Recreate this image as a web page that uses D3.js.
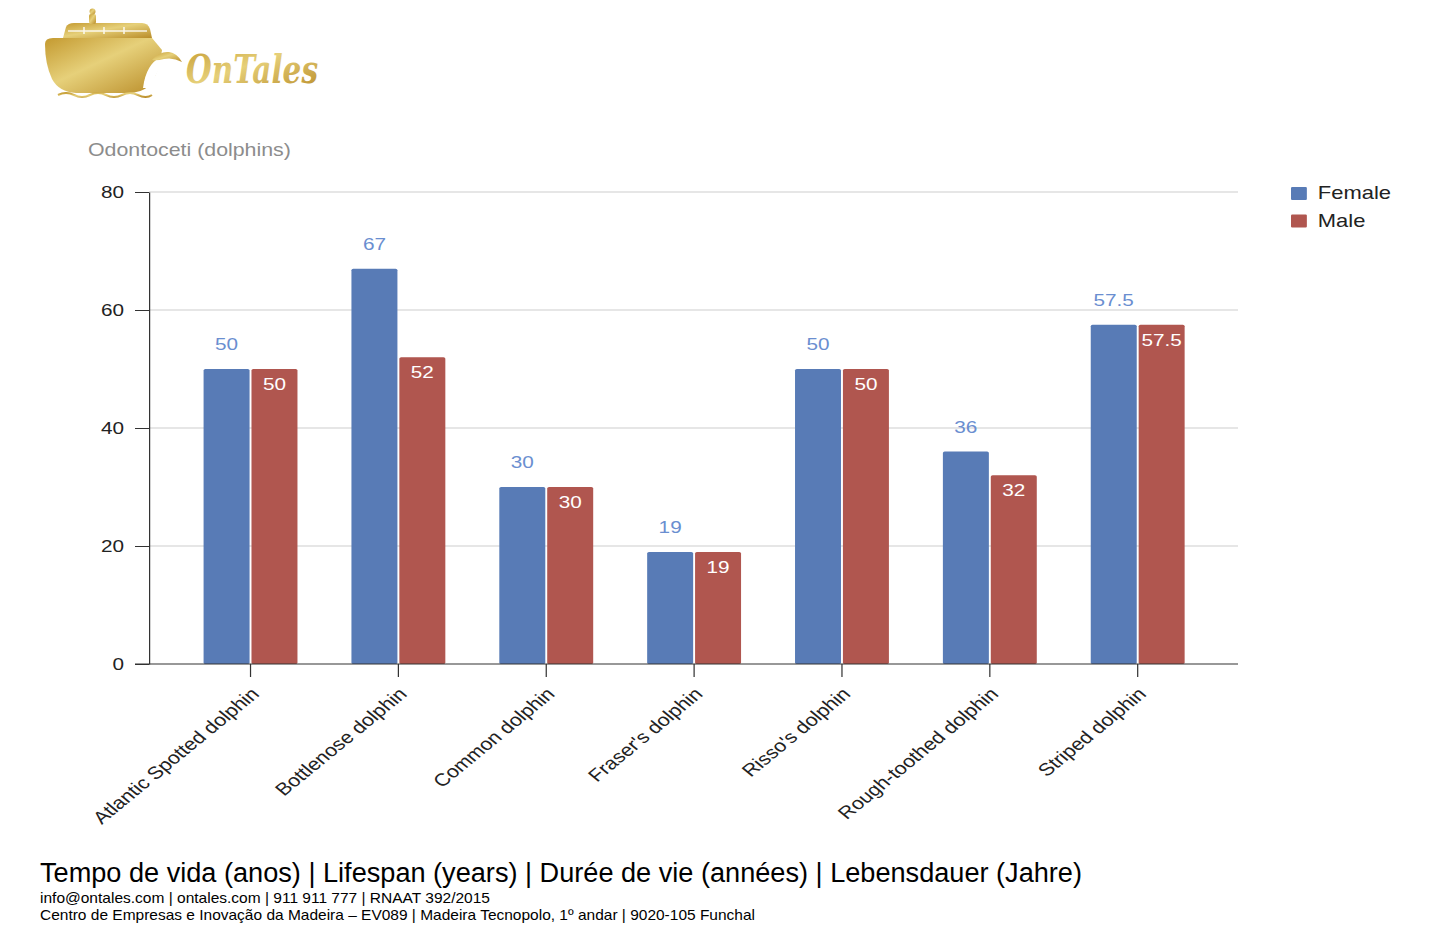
<!DOCTYPE html>
<html>
<head>
<meta charset="utf-8">
<script src="https://cdn.jsdelivr.net/npm/d3@7/dist/d3.min.js"></script>
<style>
  html, body { margin: 0; padding: 0; background: #fff; }
  svg { display: block; font-family: "Liberation Sans", Arial, sans-serif; }
</style>
</head>
<body>
<svg id="chart" width="1438" height="934"></svg>
<script>
// lifespan of dolphin species
const categories = ['Atlantic Spotted dolphin', 'Bottlenose dolphin', 'Common dolphin',
  "Fraser's dolphin", "Risso's dolphin", 'Rough-toothed dolphin', 'Striped dolphin'];
const seriesNames = ['Female', 'Male'];
const female = [50, 67, 30, 19, 50, 36, 57.5];
const male = [50, 52, 30, 19, 50, 32, 57.5];
const yTicks = [0, 20, 40, 60, 80];
const colors = ['#587bb6', '#b0564f'];

const title = 'Odontoceti (dolphins)';
const footer = [
  'Tempo de vida (anos) | Lifespan (years) | Durée de vie (années) | Lebensdauer (Jahre)',
  'info@ontales.com | ontales.com | 911 911 777 | RNAAT 392/2015',
  'Centro de Empresas e Inovação da Madeira – EV089 | Madeira Tecnopolo, 1º andar | 9020-105 Funchal'
];

// the original is a chart image stretched sideways, so draw it squeezed and scale x back up
const SX = 1.22;
const plotL = 149 / SX, plotR = 1238 / SX, plotT = 192, plotB = 664;

const svg = d3.select('#chart');
const defs = svg.append('defs');
const gold = defs.append('linearGradient').attr('id', 'gold')
  .attr('x1', 0).attr('y1', 0).attr('x2', 1).attr('y2', 1);
gold.append('stop').attr('offset', '0%').attr('stop-color', '#c49a30');
gold.append('stop').attr('offset', '45%').attr('stop-color', '#e6d07a');
gold.append('stop').attr('offset', '100%').attr('stop-color', '#b98c28');

// --- logo ---
const logo = svg.append('g');
logo.append('path') // hull
  .attr('d', 'M45,44 Q45,38 53,38 L152,38 L162,50 Q160,72 149,86 Q141,93 128,93 L76,93 Q59,92 52,79 Q45,64 45,44 Z')
  .attr('fill', 'url(#gold)');
logo.append('path') // cabin
  .attr('d', 'M63,38 L66,27 Q68,23 74,23 L142,23 Q148,23 150,29 L152,38 Z')
  .attr('fill', 'url(#gold)');
logo.append('path') // window rail
  .attr('d', 'M68,31 L147,31 M84,27 L84,34 M104,27 L104,34 M124,27 L124,34')
  .attr('stroke', '#fff').attr('stroke-width', 1.6).attr('opacity', .85);
logo.append('rect').attr('x', 89).attr('y', 14).attr('width', 7).attr('height', 10).attr('rx', 2).attr('fill', 'url(#gold)');
logo.append('circle').attr('cx', 92.5).attr('cy', 11.5).attr('r', 3).attr('fill', 'url(#gold)');
logo.append('path') // dolphin cut-out
  .attr('d', 'M143,88 Q146,64 161,57 Q172,53 182,62 Q170,60 162,66 Q154,74 153,88 Z')
  .attr('fill', '#fff');
logo.append('path')
  .attr('d', 'M152,60 Q160,51 169,52 Q177,53 182,62 Q173,57 164,59 Q157,61 152,60 Z')
  .attr('fill', 'url(#gold)');
logo.append('path') // waves
  .attr('d', 'M58,95 Q66,91 74,95 T90,95 T106,95 T122,95 T138,95 T152,95')
  .attr('fill', 'none').attr('stroke', 'url(#gold)').attr('stroke-width', 2);
logo.append('text')
  .attr('x', 186).attr('y', 83)
  .attr('font-family', 'DejaVu Serif').attr('font-style', 'italic').attr('font-weight', 700)
  .attr('font-size', 40).attr('textLength', 132).attr('lengthAdjust', 'spacingAndGlyphs')
  .attr('fill', 'url(#gold)')
  .text('OnTales');

// --- chart ---
const g = svg.append('g').attr('transform', `scale(${SX},1)`);

g.append('text')
  .attr('x', 88 / SX).attr('y', 156)
  .attr('font-size', 17.5).attr('fill', '#8c8c8c')
  .text(title);

const x0 = d3.scaleBand().domain(categories).range([plotL + 0.5, plotR + 0.5]).padding(0.365);
const x1 = d3.scaleBand().domain(seriesNames).range([0, x0.bandwidth()]).paddingInner(0.04);
const y = d3.scaleLinear().domain([0, 80]).range([plotB, plotT]);

g.append('g').selectAll('line').data(yTicks.filter(d => d > 0)).join('line')
  .attr('x1', plotL).attr('x2', plotR)
  .attr('y1', d => y(d)).attr('y2', d => y(d))
  .attr('stroke', '#dedede').attr('stroke-width', 1.5);

const yAxis = g.append('g').attr('transform', `translate(${plotL},0)`)
  .call(d3.axisLeft(y).tickValues(yTicks).tickSize(11.5).tickSizeOuter(0).tickPadding(9));
yAxis.select('.domain').attr('stroke', '#333');
yAxis.selectAll('.tick line').attr('stroke', '#333');
yAxis.selectAll('.tick text').attr('font-size', 17).attr('fill', '#222')
  .attr('font-family', '"Liberation Sans", Arial, sans-serif');

const rows = categories.map((c, i) => ({ cat: c, vals: [female[i], male[i]] }));
const groups = g.append('g').selectAll('g').data(rows).join('g')
  .attr('transform', d => `translate(${x0(d.cat)},0)`);

groups.selectAll('rect')
  .data(d => d.vals.map((v, k) => ({ key: seriesNames[k], v, k })))
  .join('rect')
  .attr('x', d => x1(d.key)).attr('width', x1.bandwidth())
  .attr('y', d => y(d.v)).attr('height', d => y(0) - y(d.v))
  .attr('rx', 1.5)
  .attr('fill', d => colors[d.k]);

// female values sit above the bar, male values inside it
groups.selectAll('text.val')
  .data(d => d.vals.map((v, k) => ({ key: seriesNames[k], v, k })))
  .join('text')
  .attr('class', 'val')
  .attr('x', d => x1(d.key) + x1.bandwidth() / 2)
  .attr('y', d => d.k === 0 ? y(d.v) - 19 : y(d.v) + 21)
  .attr('text-anchor', 'middle')
  .attr('font-size', 17)
  .attr('fill', d => d.k === 0 ? '#6a8ed0' : '#fff')
  .text(d => d.v);

g.append('line')
  .attr('x1', 135 / SX).attr('x2', plotR)
  .attr('y1', plotB).attr('y2', plotB)
  .attr('stroke', '#333').attr('stroke-width', 1.2);

const xAxis = g.append('g').attr('transform', `translate(0,${plotB})`)
  .call(d3.axisBottom(x0).tickSize(13).tickSizeOuter(0));
xAxis.select('.domain').remove();
xAxis.selectAll('.tick line').attr('stroke', '#333');
xAxis.selectAll('.tick text')
  .attr('font-size', 17.5).attr('fill', '#222')
  .attr('font-family', '"Liberation Sans", Arial, sans-serif')
  .attr('text-anchor', 'end')
  .attr('dy', 0)
  .attr('transform', 'translate(8,31) rotate(-45)')
  .attr('y', 0).attr('x', 0);

// legend
const legend = g.append('g').attr('transform', `translate(${1291 / SX},0)`);
seriesNames.forEach((s, i) => {
  legend.append('rect')
    .attr('x', 0).attr('y', 187 + i * 27.5).attr('width', 13).attr('height', 13)
    .attr('rx', 1).attr('fill', colors[i]);
  legend.append('text')
    .attr('x', 22).attr('y', 199.5 + i * 27.5)
    .attr('font-size', 18).attr('fill', '#222')
    .text(s);
});

// --- footer ---
const foot = svg.append('g');
const footY = [882, 903, 920], footSize = [27, 15, 15], footW = [1042, 450, 715];
footer.forEach((t, i) => {
  foot.append('text')
    .attr('x', 40).attr('y', footY[i])
    .attr('font-size', footSize[i]).attr('fill', '#000')
    .attr('textLength', footW[i]).attr('lengthAdjust', 'spacingAndGlyphs')
    .text(t);
});
</script>
</body>
</html>
